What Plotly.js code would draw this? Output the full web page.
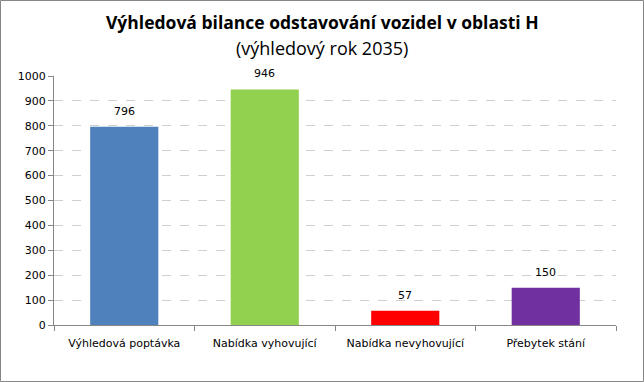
<!DOCTYPE html>
<html><head><meta charset="utf-8">
<script src="https://cdn.plot.ly/plotly-3.0.1.min.js"></script>
<style>html,body{margin:0;padding:0;background:#fff}#c{width:644px;height:382px}</style>
</head><body><div id="c"></div>
<script>
const categories = ["Výhledová poptávka", "Nabídka vyhovující", "Nabídka nevyhovující", "Přebytek stání"];
const values = [796, 946, 57, 150];
const barColors = ["#4F81BD", "#92D050", "#FF0000", "#7030A0"];
const yTicks = [0,100,200,300,400,500,600,700,800,900,1000];
const titleMain = "Výhledová bilance odstavování vozidel v oblasti H";
const titleSub = "(výhledový rok 2035)";

const trace = {
  type: "bar", x: categories, y: values,
  marker: {color: barColors},
  width: 0.485, hoverinfo: "none"
};
const H = 249, W = 562;
const labelAnn = categories.map((c, i) => ({
  x: c, y: values[i], xref: "x", yref: "y", text: String(values[i]), showarrow: false,
  yanchor: "bottom", yshift: 7, font: {family: "DejaVu Sans", size: 11, color: "#000"}
}));
const cx = (322 - 54) / W;
const titleAnn = [
  {text: "<b>" + titleMain + "</b>", xref: "paper", yref: "paper", x: cx, y: 1 + (76-22)/H,
   xanchor: "center", yanchor: "middle", showarrow: false, font: {family: "Open Sans", size: 17.5, color: "#000"}},
  {text: titleSub, xref: "paper", yref: "paper", x: cx, y: 1 + (76-48)/H,
   xanchor: "center", yanchor: "middle", showarrow: false, font: {family: "Open Sans", size: 18, color: "#000"}}
];
const layout = {
  width: 644, height: 382,
  margin: {l: 54, r: 28, t: 76, b: 57},
  paper_bgcolor: "#fff", plot_bgcolor: "#fff",
  showlegend: false,
  annotations: titleAnn.concat(labelAnn),
  xaxis: {type: "category", showline: true, linecolor: "#868686", linewidth: 1,
    ticks: "outside", tickson: "boundaries", ticklen: 5, tickcolor: "#868686", ticklabelstandoff: 8,
    tickfont: {family: "DejaVu Sans", size: 11, color: "#000"}, showgrid: false, fixedrange: true},
  yaxis: {range: [0, 1000], tickvals: yTicks, ticktext: yTicks.map(String),
    showline: true, linecolor: "#868686", linewidth: 1, ticks: "outside", ticklen: 5, tickcolor: "#868686",
    showgrid: true, gridcolor: "#D0D0D0", griddash: "dash", gridwidth: 1, zeroline: false,
    tickfont: {family: "DejaVu Sans", size: 11, color: "#000"}, fixedrange: true},
  shapes: [{type: "rect", xref: "paper", yref: "paper", layer: "above",
      x0: -53.5/W, x1: 1 + 27.5/W, y0: -56.5/H, y1: 1 + 75.5/H, line: {color: "#868686", width: 1}}]
};
Plotly.newPlot("c", [trace], layout, {displayModeBar: false, staticPlot: true});
</script></body></html>
